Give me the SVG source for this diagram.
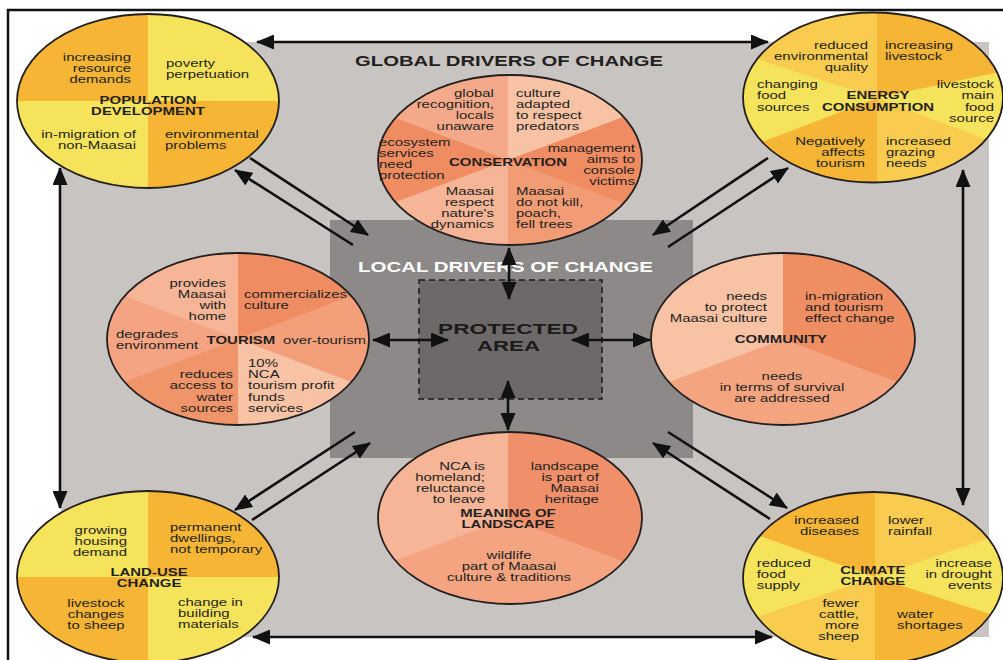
<svg xmlns="http://www.w3.org/2000/svg" width="1003" height="660" viewBox="0 0 1003 660">
<style>
.t{font-family:"Liberation Sans",Arial,Helvetica,sans-serif;font-size:11.6px;fill:#231f20}
.b{font-weight:bold}
.e{text-anchor:end}
.m{text-anchor:middle}
.ol{fill:none;stroke:#231f20;stroke-width:1.8}
.c{fill:none;stroke:#111;stroke-width:2.6}
.d{marker-start:url(#ah);marker-end:url(#ah)}
.s{marker-end:url(#ah)}
.Y{fill:#f6e35c}.O{fill:#f6b535}.L{fill:#f9cb4f}
.s1{fill:#f8c3a5}.s2{fill:#f6b596}.s3{fill:#f3a37e}.s4{fill:#ef8c61}
</style>
<defs>
<marker id="ah" markerUnits="userSpaceOnUse" markerWidth="18" markerHeight="15" viewBox="0 0 18 15" refX="17" refY="7.5" orient="auto-start-reverse"><path d="M0,0 L18,7.5 L0,15 Z" fill="#111"/></marker>
<clipPath id="cpPop"><ellipse cx="148" cy="101" rx="131" ry="87"/></clipPath>
<clipPath id="cpEn"><ellipse cx="873" cy="97.5" rx="130" ry="85"/></clipPath>
<clipPath id="cpCons"><ellipse cx="510" cy="160" rx="132" ry="85"/></clipPath>
<clipPath id="cpTour"><ellipse cx="238" cy="339" rx="131" ry="86"/></clipPath>
<clipPath id="cpComm"><ellipse cx="783" cy="339" rx="132" ry="86"/></clipPath>
<clipPath id="cpMean"><ellipse cx="510" cy="518" rx="132" ry="86"/></clipPath>
<clipPath id="cpLand"><ellipse cx="148" cy="577" rx="131" ry="86"/></clipPath>
<clipPath id="cpClim"><ellipse cx="873" cy="578" rx="130" ry="86"/></clipPath>
</defs>
<rect width="1003" height="660" fill="#fff"/>
<path d="M8,662 V10 H1005" fill="none" stroke="#111" stroke-width="2.5"/>
<rect id="global-bg" x="61" y="42" width="928" height="595" fill="#c8c4c2"/>
<text class="t b" x="355" y="66" style="font-size:14px" textLength="308" lengthAdjust="spacingAndGlyphs">GLOBAL DRIVERS OF CHANGE</text>
<g id="local-drivers">
<rect x="330" y="220" width="363" height="238" fill="#8e8989"/>
<text class="t b" x="358" y="272" style="fill:#fff;font-size:15px" textLength="295" lengthAdjust="spacingAndGlyphs">LOCAL DRIVERS OF CHANGE</text>
</g>
<g id="protected-area">
<rect x="419" y="280" width="183" height="119" fill="#6e6969" stroke="#1a1a1a" stroke-width="1.5" stroke-dasharray="6 4"/>
<text class="t b" x="438" y="334" style="font-size:15px;fill:#1c1a1a" textLength="140" lengthAdjust="spacingAndGlyphs">PROTECTED</text>
<text class="t b" x="477" y="351" style="font-size:15px;fill:#1c1a1a" textLength="63" lengthAdjust="spacingAndGlyphs">AREA</text>
</g>

<g id="population-development">
<g clip-path="url(#cpPop)">
<rect x="10" y="10" width="138" height="91" class="O"/>
<rect x="148" y="10" width="140" height="91" class="Y"/>
<rect x="10" y="101" width="138" height="95" class="Y"/>
<rect x="148" y="101" width="140" height="95" class="O"/>
</g>
<ellipse class="ol" cx="148" cy="101" rx="131" ry="87"/>
<g transform="matrix(1.29 0 0 1 -42.92 0)">
<text class="t e"><tspan x="134.8" y="61">increasing</tspan><tspan x="134.8" y="72">resource</tspan><tspan x="134.8" y="83">demands</tspan></text>
<text class="t"><tspan x="162" y="67">poverty</tspan><tspan x="162" y="78">perpetuation</tspan></text>
<text class="t b m"><tspan x="148" y="104">POPULATION</tspan><tspan x="148" y="115">DEVELOPMENT</tspan></text>
<text class="t e"><tspan x="138.7" y="138">in-migration of</tspan><tspan x="138.7" y="149">non-Maasai</tspan></text>
<text class="t"><tspan x="161.2" y="138">environmental</tspan><tspan x="161.2" y="149">problems</tspan></text>
</g>
</g>

<g id="energy-consumption">
<g clip-path="url(#cpEn)">
<rect x="740" y="10" width="265" height="180" class="Y"/>
<polygon points="877,98 526,-16 526,-100 877,-100" class="L"/>
<polygon points="877,98 877,-100 1350,-100 1349,-2" class="O"/>
<polygon points="877,98 1349,278 1349,300 877,300" class="L"/>
<polygon points="877,98 877,300 532,300 532,230" class="O"/>
</g>
<ellipse class="ol" cx="873" cy="97.5" rx="130" ry="85"/>
<g transform="matrix(1.29 0 0 1 -254.33 0)">
<text class="t e"><tspan x="870" y="49">reduced</tspan><tspan x="870" y="60">environmental</tspan><tspan x="870" y="71">quality</tspan></text>
<text class="t"><tspan x="883.2" y="49">increasing</tspan><tspan x="883.2" y="60">livestock</tspan></text>
<text class="t"><tspan x="784" y="88">changing</tspan><tspan x="784" y="99">food</tspan><tspan x="784" y="111">sources</tspan></text>
<text class="t b m"><tspan x="877.8" y="99">ENERGY</tspan><tspan x="877.8" y="111">CONSUMPTION</tspan></text>
<text class="t e"><tspan x="967.7" y="88">livestock</tspan><tspan x="967.7" y="99">main</tspan><tspan x="967.7" y="111">food</tspan><tspan x="967.7" y="122">source</tspan></text>
<text class="t e"><tspan x="867.7" y="145">Negatively</tspan><tspan x="867.7" y="156">affects</tspan><tspan x="867.7" y="167">tourism</tspan></text>
<text class="t"><tspan x="884" y="145">increased</tspan><tspan x="884" y="156">grazing</tspan><tspan x="884" y="167">needs</tspan></text>
</g>
</g>

<g id="conservation">
<g clip-path="url(#cpCons)">
<rect x="370" y="70" width="280" height="180" class="s4"/>
<polygon points="508,160 163,31 163,0 508,0" fill="#f4aa8a"/>
<polygon points="508,160 508,0 853,0 853,31" class="s1"/>
<polygon points="508,160 853,289 853,320 508,320" fill="#f29c75"/>
<polygon points="508,160 508,320 163,320 163,289" class="s2"/>
</g>
<ellipse class="ol" cx="510" cy="160" rx="132" ry="85"/>
<g transform="matrix(1.29 0 0 1 -147.32 0)">
<text class="t e"><tspan x="497.1" y="97">global</tspan><tspan x="497.1" y="108">recognition,</tspan><tspan x="497.1" y="119">locals</tspan><tspan x="497.1" y="130">unaware</tspan></text>
<text class="t"><tspan x="514.2" y="97">culture</tspan><tspan x="514.2" y="108">adapted</tspan><tspan x="514.2" y="119">to respect</tspan><tspan x="514.2" y="130">predators</tspan></text>
<text class="t"><tspan x="408" y="146">ecosystem</tspan><tspan x="408" y="157">services</tspan><tspan x="408" y="168">need</tspan><tspan x="408" y="179">protection</tspan></text>
<text class="t b m" x="508" y="166">CONSERVATION</text>
<text class="t e"><tspan x="606.4" y="152">management</tspan><tspan x="606.4" y="163">aims to</tspan><tspan x="606.4" y="174">console</tspan><tspan x="606.4" y="185">victims</tspan></text>
<text class="t e"><tspan x="497.1" y="195">Maasai</tspan><tspan x="497.1" y="206">respect</tspan><tspan x="497.1" y="217">nature's</tspan><tspan x="497.1" y="228">dynamics</tspan></text>
<text class="t"><tspan x="514.2" y="195">Maasai</tspan><tspan x="514.2" y="206">do not kill,</tspan><tspan x="514.2" y="217">poach,</tspan><tspan x="514.2" y="228">fell trees</tspan></text>
</g>
</g>

<g id="tourism">
<g clip-path="url(#cpTour)">
<rect x="100" y="250" width="280" height="180" fill="#f4a483"/>
<polygon points="238,339 -101,210 -101,150 238,150" class="s2"/>
<polygon points="238,339 238,150 577,150 577,210" class="s4"/>
<polygon points="238,339 577,210 577,468" fill="#f3a07a"/>
<polygon points="238,339 577,468 577,530 238,530" class="s1"/>
<polygon points="238,339 238,530 -101,530 -101,468" fill="#f0946a"/>
</g>
<ellipse class="ol" cx="238" cy="339" rx="131" ry="86"/>
<g transform="matrix(1.29 0 0 1 -69.02 0)">
<text class="t e"><tspan x="228.7" y="287">provides</tspan><tspan x="228.7" y="298">Maasai</tspan><tspan x="228.7" y="309">with</tspan><tspan x="228.7" y="320">home</tspan></text>
<text class="t"><tspan x="242.7" y="298">commercializes</tspan><tspan x="242.7" y="309">culture</tspan></text>
<text class="t"><tspan x="143.4" y="338">degrades</tspan><tspan x="143.4" y="349">environment</tspan></text>
<text class="t b m" x="240.3" y="344">TOURISM</text>
<text class="t" x="272.9" y="344">over-tourism</text>
<text class="t"><tspan x="245.8" y="367">10%</tspan><tspan x="245.8" y="378">NCA</tspan><tspan x="245.8" y="389">tourism profit</tspan><tspan x="245.8" y="401">funds</tspan><tspan x="245.8" y="412">services</tspan></text>
<text class="t e"><tspan x="234.1" y="378">reduces</tspan><tspan x="234.1" y="389">access to</tspan><tspan x="234.1" y="401">water</tspan><tspan x="234.1" y="412">sources</tspan></text>
</g>
</g>

<g id="community">
<g clip-path="url(#cpComm)">
<rect x="645" y="250" width="280" height="180" fill="#f4a580"/>
<polygon points="783,339 783,150 441,150 441,468" class="s1"/>
<polygon points="783,339 783,150 1125,150 1125,468" fill="#f08e63"/>
</g>
<ellipse class="ol" cx="783" cy="339" rx="132" ry="86"/>
<g transform="matrix(1.29 0 0 1 -227.07 0)">
<text class="t e"><tspan x="770.6" y="300">needs</tspan><tspan x="770.6" y="311">to protect</tspan><tspan x="770.6" y="322">Maasai culture</tspan></text>
<text class="t"><tspan x="800.1" y="300">in-migration</tspan><tspan x="800.1" y="311">and tourism</tspan><tspan x="800.1" y="322">effect change</tspan></text>
<text class="t b m" x="781.4" y="343">COMMUNITY</text>
<text class="t m"><tspan x="782.2" y="380">needs</tspan><tspan x="782.2" y="391">in terms of survival</tspan><tspan x="782.2" y="402">are addressed</tspan></text>
</g>
</g>

<g id="meaning-of-landscape">
<g clip-path="url(#cpMean)">
<rect x="370" y="425" width="285" height="190" fill="#f4a481"/>
<polygon points="508,518 508,330 166,330 166,647" class="s2"/>
<polygon points="508,518 508,330 850,330 850,647" fill="#f0906a"/>
</g>
<ellipse class="ol" cx="510" cy="518" rx="132" ry="86"/>
<g transform="matrix(1.29 0 0 1 -147.32 0)">
<text class="t e"><tspan x="490.2" y="470">NCA is</tspan><tspan x="490.2" y="481">homeland;</tspan><tspan x="490.2" y="492">reluctance</tspan><tspan x="490.2" y="503">to leave</tspan></text>
<text class="t e"><tspan x="578.4" y="470">landscape</tspan><tspan x="578.4" y="481">is part of</tspan><tspan x="578.4" y="492">Maasai</tspan><tspan x="578.4" y="503">heritage</tspan></text>
<text class="t b m"><tspan x="508" y="517">MEANING OF</tspan><tspan x="508" y="528">LANDSCAPE</tspan></text>
<text class="t m"><tspan x="508.8" y="559">wildlife</tspan><tspan x="508.8" y="570">part of Maasai</tspan><tspan x="508.8" y="581">culture &amp; traditions</tspan></text>
</g>
</g>

<g id="land-use-change">
<g clip-path="url(#cpLand)">
<rect x="10" y="485" width="138" height="92" class="Y"/>
<rect x="148" y="485" width="140" height="92" class="O"/>
<rect x="10" y="577" width="138" height="95" class="O"/>
<rect x="148" y="577" width="140" height="95" class="Y"/>
</g>
<ellipse class="ol" cx="148" cy="577" rx="131" ry="86"/>
<g transform="matrix(1.29 0 0 1 -42.92 0)">
<text class="t e"><tspan x="131.7" y="534">growing</tspan><tspan x="131.7" y="545">housing</tspan><tspan x="131.7" y="556">demand</tspan></text>
<text class="t"><tspan x="165.1" y="531">permanent</tspan><tspan x="165.1" y="542">dwellings,</tspan><tspan x="165.1" y="553">not temporary</tspan></text>
<text class="t b m"><tspan x="148.8" y="576">LAND-USE</tspan><tspan x="148.8" y="587">CHANGE</tspan></text>
<text class="t m"><tspan x="107.7" y="607">livestock</tspan><tspan x="107.7" y="618">changes</tspan><tspan x="107.7" y="629">to sheep</tspan></text>
<text class="t"><tspan x="171.3" y="606">change in</tspan><tspan x="171.3" y="617">building</tspan><tspan x="171.3" y="628">materials</tspan></text>
</g>
</g>

<g id="climate-change">
<g clip-path="url(#cpClim)">
<rect x="740" y="488" width="265" height="180" class="Y"/>
<polygon points="875,577 530,454 530,400 875,400" class="O"/>
<polygon points="875,577 875,400 1230,400 1229,457" class="L"/>
<polygon points="875,577 1229,691 1229,760 875,760" class="O"/>
<polygon points="875,577 875,760 539,760 539,691" class="L"/>
</g>
<ellipse class="ol" cx="873" cy="578" rx="130" ry="86"/>
<g transform="matrix(1.29 0 0 1 -253.75 0)">
<text class="t e"><tspan x="862.6" y="524">increased</tspan><tspan x="862.6" y="535">diseases</tspan></text>
<text class="t"><tspan x="885.1" y="524">lower</tspan><tspan x="885.1" y="535">rainfall</tspan></text>
<text class="t"><tspan x="783.3" y="567">reduced</tspan><tspan x="783.3" y="578">food</tspan><tspan x="783.3" y="589">supply</tspan></text>
<text class="t b m"><tspan x="873.4" y="574">CLIMATE</tspan><tspan x="873.4" y="585">CHANGE</tspan></text>
<text class="t e"><tspan x="965.7" y="567">increase</tspan><tspan x="965.7" y="578">in drought</tspan><tspan x="965.7" y="589">events</tspan></text>
<text class="t e"><tspan x="862.6" y="607">fewer</tspan><tspan x="862.6" y="618">cattle,</tspan><tspan x="862.6" y="629">more</tspan><tspan x="862.6" y="640">sheep</tspan></text>
<text class="t"><tspan x="892.1" y="618">water</tspan><tspan x="892.1" y="629">shortages</tspan></text>
</g>
</g>

<g id="connectors">
<line class="c d" x1="257" y1="42" x2="768" y2="42"/>
<line class="c d" x1="253" y1="637" x2="772" y2="637"/>
<line class="c d" x1="60" y1="168" x2="60" y2="508"/>
<line class="c d" x1="963" y1="170" x2="963" y2="505"/>
<line class="c d" x1="509" y1="248" x2="509" y2="299"/>
<line class="c d" x1="508" y1="381" x2="508" y2="430"/>
<line class="c d" x1="373" y1="340" x2="448" y2="340"/>
<line class="c d" x1="572" y1="340" x2="650" y2="340"/>
<line class="c s" x1="250" y1="158" x2="368" y2="235"/>
<line class="c s" x1="353" y1="245" x2="235" y2="170"/>
<line class="c s" x1="768" y1="158" x2="653" y2="235"/>
<line class="c s" x1="668" y1="247" x2="788" y2="168"/>
<line class="c s" x1="355" y1="432" x2="235" y2="510"/>
<line class="c s" x1="252" y1="520" x2="370" y2="443"/>
<line class="c s" x1="668" y1="432" x2="787" y2="508"/>
<line class="c s" x1="770" y1="519" x2="653" y2="443"/>
</g>
</svg>
